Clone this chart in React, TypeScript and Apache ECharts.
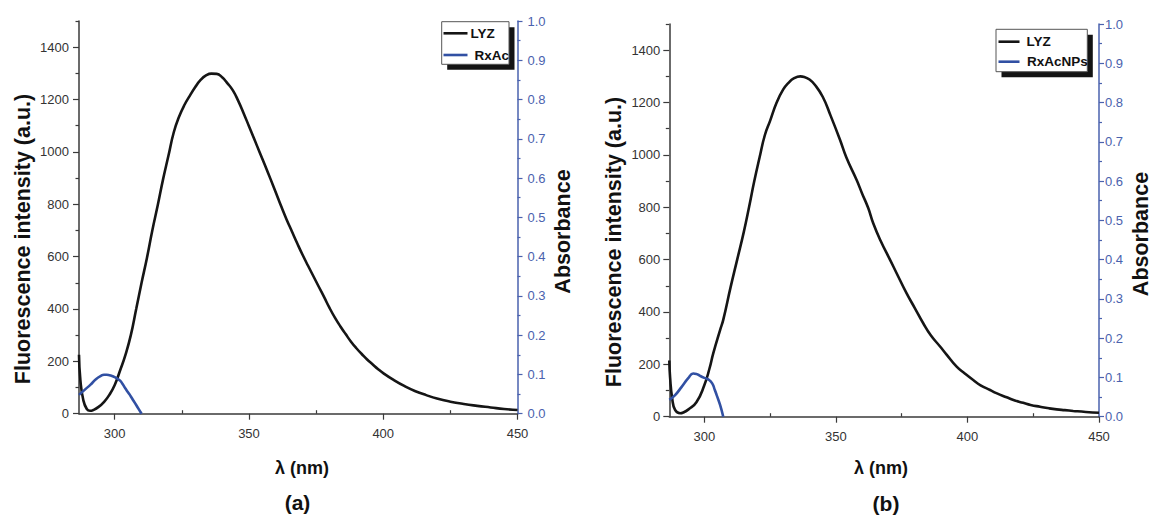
import React, { useEffect, useRef } from "react";
import * as echarts from "echarts";

// ---------- data ----------
// (a) LYZ fluorescence
const lyzAWl = [286.7, 287.2, 288.3, 289.6, 290.8, 292, 294, 296, 298, 300, 302, 304, 306, 308, 310, 312, 314, 316, 318, 320, 322, 324, 326, 328, 330, 332, 334, 336, 338, 340, 342, 344, 346, 348, 350, 352, 354, 356, 358, 360, 362, 364, 366, 368, 370, 372, 374, 376, 378, 380, 382, 384, 386, 388, 390, 392, 394, 396, 398, 400, 404, 408, 412, 416, 420, 425, 430, 435, 440, 445, 450];
const lyzAVal = [225, 130, 52, 18, 11, 14, 26, 45, 72, 110, 165, 225, 300, 400, 500, 595, 700, 795, 895, 985, 1075, 1135, 1180, 1215, 1248, 1275, 1292, 1299, 1298, 1285, 1262, 1235, 1195, 1148, 1098, 1048, 998, 948, 897, 845, 792, 742, 696, 650, 606, 565, 525, 485, 445, 404, 367, 334, 304, 275, 250, 228, 207, 189, 171, 155, 128, 105, 86, 71, 58, 46, 37, 30, 24, 18, 14];
// (a) RxAc absorbance
const rxAcWl = [286.7, 289, 291, 293, 295, 296, 297, 298, 299, 300, 301, 302, 303, 304, 305, 306, 307, 308, 309, 310];
const rxAcAbs = [0.048, 0.062, 0.074, 0.088, 0.097, 0.099, 0.099, 0.098, 0.096, 0.093, 0.089, 0.084, 0.075, 0.064, 0.054, 0.044, 0.033, 0.022, 0.011, 0.0];
// (b) LYZ fluorescence
const lyzBWl = [286.7, 287.0, 287.8, 288.9, 290.8, 292, 294, 297, 300, 302, 303.4, 306, 307.2, 310, 312.5, 315, 317, 319, 321, 323, 325, 327.5, 330, 332, 334, 336.5, 338, 340, 342, 345, 348, 351.6, 354, 357.9, 360, 362.3, 364.2, 367, 370.6, 373, 376.9, 380, 383.2, 386, 389.6, 392, 395.9, 399, 402.2, 405, 408.6, 411, 414.9, 418, 421.2, 424, 427.6, 431, 433.9, 437, 440.2, 445, 450];
const lyzBVal = [215, 150, 70, 26, 13, 16, 28, 55, 120, 185, 242, 331, 370, 495, 600, 705, 800, 900, 990, 1075, 1130, 1200, 1250, 1275, 1292, 1300, 1298, 1288, 1268, 1222, 1150, 1057, 990, 904, 852, 797, 739, 672, 599, 550, 471, 415, 357, 312, 268, 238, 191, 165, 140, 120, 102, 90, 74, 62, 53, 45, 38, 32, 28, 25, 22, 18, 15];
// (b) RxAcNPs absorbance
const rxNpWl = [286.7, 288.9, 291.4, 293.9, 295.8, 297, 298.4, 300, 301.5, 303, 304, 304.7, 306, 307.2];
const rxNpAbs = [0.043, 0.055, 0.076, 0.098, 0.11, 0.109, 0.104, 0.099, 0.095, 0.085, 0.068, 0.055, 0.03, 0.0];

// ticks
const xLabelVals = [300, 350, 400, 450];
const xMinorVals = [325, 375, 425];
const yLabelVals = [0, 200, 400, 600, 800, 1000, 1200, 1400];
const yMinorVals = [100, 300, 500, 700, 900, 1100, 1300, 1500];

const seriesNames = ["LYZ", "RxAc", "RxAcNPs"];

const zip = (a: number[], b: number[]) => a.map((v, i) => [v, b[i]]);

const FONT = "'Liberation Sans', Arial, Helvetica, sans-serif";
const BLACK = "#151515";
const BLUE = "#3150a3";
const AXBLUE = "#4a62ae";
const GRAY = "#3a3a3a";

export default function App() {
  const ref = useRef<HTMLDivElement>(null);
  useEffect(() => {
    if (!ref.current) return;
    const chart = echarts.init(ref.current, null, { renderer: "svg" });

    const grids = [
      { left: 79, top: 21, width: 438.5, height: 392.7, lblY: 10, lblAbs: 10 },
      { left: 669.3, top: 24, width: 429.7, height: 392.7, lblY: 9, lblAbs: 6 },
    ];

    const xAxes: any[] = [];
    const yAxes: any[] = [];
    grids.forEach((g, gi) => {
      xAxes.push({
        type: "value", gridIndex: gi, min: 286.7, max: 450,
        axisLine: { show: true, onZero: false, lineStyle: { color: GRAY, width: 1.5 } },
        axisTick: { show: true, customValues: xLabelVals, length: 6, lineStyle: { color: GRAY, width: 1.2 } },
        axisLabel: { customValues: xLabelVals, fontSize: 13, color: "#333", fontFamily: FONT, margin: 13, formatter: (v: number) => String(v) },
        splitLine: { show: false },
      });
      xAxes.push({
        type: "value", gridIndex: gi, min: 286.7, max: 450,
        axisLine: { show: false },
        axisTick: { show: true, customValues: xMinorVals, length: 3.5, lineStyle: { color: GRAY, width: 1.2 } },
        axisLabel: { show: false },
        splitLine: { show: false },
      });
      yAxes.push({
        type: "value", gridIndex: gi, position: "left", min: 0, max: 1500,
        axisLine: { show: true, onZero: false, lineStyle: { color: GRAY, width: 1.5 } },
        axisTick: { show: true, customValues: yLabelVals, length: 6, lineStyle: { color: GRAY, width: 1.2 } },
        axisLabel: { customValues: yLabelVals, fontSize: 13, color: "#333", fontFamily: FONT, margin: g.lblY, formatter: (v: number) => String(v) },
        splitLine: { show: false },
      });
      yAxes.push({
        type: "value", gridIndex: gi, position: "left", min: 0, max: 1500,
        axisLine: { show: false },
        axisTick: { show: true, customValues: yMinorVals, length: 3.5, lineStyle: { color: GRAY, width: 1.2 } },
        axisLabel: { show: false },
        splitLine: { show: false },
      });
      yAxes.push({
        type: "value", gridIndex: gi, position: "right", min: 0, max: 1, interval: 0.1,
        axisLine: { show: true, onZero: false, lineStyle: { color: AXBLUE, width: 1.5 } },
        axisTick: { show: true, length: 5, lineStyle: { color: AXBLUE, width: 1.2 } },
        minorTick: { show: true, splitNumber: 2, length: 3, lineStyle: { color: AXBLUE, width: 1.2 } },
        axisLabel: { fontSize: 13, color: AXBLUE, fontFamily: FONT, margin: g.lblAbs, formatter: (v: number) => v.toFixed(1) },
        splitLine: { show: false },
        minorSplitLine: { show: false },
      });
    });

    const lineBase = { type: "line", showSymbol: false, symbol: "none", smooth: 0.5, z: 3, silent: true };

    const series: any[] = [
      { ...lineBase, name: seriesNames[0], xAxisIndex: 0, yAxisIndex: 0, data: zip(lyzAWl, lyzAVal), lineStyle: { color: BLACK, width: 2.6 } },
      { ...lineBase, name: seriesNames[1], xAxisIndex: 0, yAxisIndex: 2, data: zip(rxAcWl, rxAcAbs), lineStyle: { color: BLUE, width: 2.6 } },
      { ...lineBase, name: seriesNames[0] + " ", xAxisIndex: 2, yAxisIndex: 3, data: zip(lyzBWl, lyzBVal), lineStyle: { color: BLACK, width: 2.6 } },
      { ...lineBase, name: seriesNames[2], xAxisIndex: 2, yAxisIndex: 5, data: zip(rxNpWl, rxNpAbs), lineStyle: { color: BLUE, width: 2.6 } },
    ];

    const titleStyle = (text: string, size: number) => ({
      text, fontSize: size, fontWeight: "bold", fontFamily: FONT, fill: "#111",
      align: "center", verticalAlign: "middle",
    });

    const legend = (bx: number, by: number, bw: number, bh: number, items: { y: number; x1: number; x2: number; tx: number; color: string; name: string }[]) => [
      { type: "rect", z: 10, shape: { x: bx + 5.5, y: by + 5.5, width: bw, height: bh }, style: { fill: "#141414" } },
      { type: "rect", z: 11, shape: { x: bx, y: by, width: bw, height: bh }, style: { fill: "#fff", stroke: "#555", lineWidth: 1 } },
      ...items.flatMap((it) => [
        { type: "line", z: 12, shape: { x1: it.x1, y1: it.y, x2: it.x2, y2: it.y }, style: { stroke: it.color, lineWidth: 2.6 } },
        { type: "text", z: 12, x: it.tx, y: it.y, style: { text: it.name, fontSize: 13.5, fontWeight: "bold", fontFamily: FONT, fill: "#111", align: "left", verticalAlign: "middle" } },
      ]),
    ];

    const graphic: any[] = [
      // axis titles (a)
      { type: "text", x: 22.5, y: 239, rotation: Math.PI / 2, style: titleStyle("Fluorescence intensity (a.u.)", 21.5) },
      { type: "text", x: 562.5, y: 231.5, rotation: Math.PI / 2, style: titleStyle("Absorbance", 21.5) },
      { type: "text", x: 302, y: 468, style: titleStyle("λ (nm)", 18) },
      { type: "text", x: 297.5, y: 502, style: titleStyle("(a)", 21) },
      // axis titles (b)
      { type: "text", x: 613.5, y: 242, rotation: Math.PI / 2, style: titleStyle("Fluorescence intensity (a.u.)", 21.5) },
      { type: "text", x: 1141, y: 234, rotation: Math.PI / 2, style: titleStyle("Absorbance", 21.5) },
      { type: "text", x: 881, y: 468, style: titleStyle("λ (nm)", 18) },
      { type: "text", x: 886, y: 503, style: titleStyle("(b)", 21) },
      // legends
      ...legend(441.7, 21.7, 67.3, 42.6, [
        { y: 33.3, x1: 443.5, x2: 467.5, tx: 470.5, color: BLACK, name: seriesNames[0] },
        { y: 55, x1: 443.5, x2: 467.5, tx: 474.5, color: BLUE, name: seriesNames[1] },
      ]),
      ...legend(996, 29.3, 91.3, 42.4, [
        { y: 41.7, x1: 998.5, x2: 1019.5, tx: 1026.5, color: BLACK, name: seriesNames[0] },
        { y: 61.7, x1: 998.5, x2: 1019.5, tx: 1027, color: BLUE, name: seriesNames[2] },
      ]),
    ];

    chart.setOption({
      animation: false,
      backgroundColor: "#ffffff",
      grid: grids.map((g) => ({ left: g.left, top: g.top, width: g.width, height: g.height, containLabel: false })),
      xAxis: xAxes,
      yAxis: yAxes,
      series,
      graphic,
    });
    return () => chart.dispose();
  }, []);

  return <div ref={ref} style={{ position: "fixed", left: 0, top: 0, width: 1156, height: 520 }} />;
}
